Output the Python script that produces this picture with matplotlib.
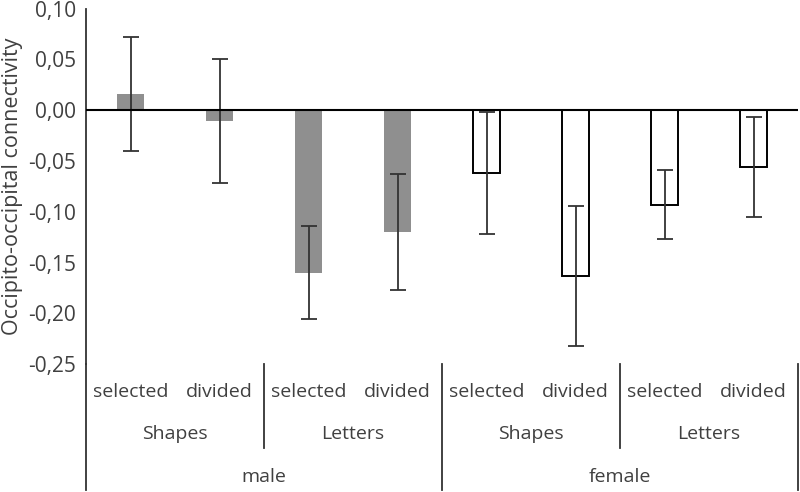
import numpy as np
import matplotlib.pyplot as plt
from matplotlib.ticker import FuncFormatter

plt.rcParams['font.family'] = ['Open Sans', 'DejaVu Sans']

conditions = ['selected', 'divided', 'selected', 'divided',
              'selected', 'divided', 'selected', 'divided']
stimuli = ['Shapes', 'Letters', 'Shapes', 'Letters']
groups = ['male', 'female']
values = [0.016, -0.011, -0.160, -0.120, -0.062, -0.163, -0.093, -0.056]
errors = [0.056, 0.061, 0.046, 0.057, 0.060, 0.069, 0.034, 0.049]
is_female = [False] * 4 + [True] * 4

fig = plt.figure(figsize=(8, 4.92), dpi=100)
ax = fig.add_axes([0.1075, 0.26, 0.89, 0.7225])

x = np.arange(len(values))
txt = '#404040'
for xi, v, e, f in zip(x, values, errors, is_female):
    if f:
        ax.bar(xi, v, width=0.31, color='white', edgecolor='black', linewidth=1.4, zorder=2)
    else:
        ax.bar(xi, v, width=0.31, color='#8f8f8f', edgecolor='none', zorder=2)
    ax.errorbar(xi, v, yerr=e, fmt='none', ecolor='#333333', elinewidth=1.3,
                capsize=6, capthick=1.3, zorder=3)

ax.axhline(0, color='black', linewidth=1.5, zorder=4)
ax.set_xlim(-0.5, 7.5)
ax.set_ylim(-0.25, 0.10)
ax.set_yticks(np.arange(-0.25, 0.101, 0.05))
ax.yaxis.set_major_formatter(FuncFormatter(lambda v, p: ('%.2f' % v).replace('.', ',').replace('-0,00', '0,00')))
ax.tick_params(axis='y', length=0, labelsize=15, labelcolor=txt, pad=7)
ax.set_xticks([])
for s in ['top', 'right', 'bottom']:
    ax.spines[s].set_visible(False)
ax.spines['left'].set_color('#333333')
ax.spines['left'].set_linewidth(1.3)
ax.set_ylabel('Occipito-occipital connectivity', fontsize=15.5, color=txt, labelpad=4)

# multi-level category axis
fs = 14
tr = ax.get_xaxis_transform()
for xi, c in zip(x, conditions):
    ax.text(xi, -0.079, c, transform=tr, ha='center', va='center', fontsize=fs, color=txt)
for i, s in enumerate(stimuli):
    ax.text(2 * i + 0.5, -0.197, s, transform=tr, ha='center', va='center', fontsize=fs, color=txt)
for i, g in enumerate(groups):
    ax.text(4 * i + 1.5, -0.317, g, transform=tr, ha='center', va='center', fontsize=fs, color=txt)
for xs in [1.5, 5.5]:
    ax.plot([xs, xs], [0, -0.236], transform=tr, color='#333333', lw=1.3, clip_on=False)
for xs in [-0.5, 3.5, 7.5]:
    ax.plot([xs, xs], [0, -0.354], transform=tr, color='#333333', lw=1.3, clip_on=False)

fig.savefig('out.png', dpi=100)
